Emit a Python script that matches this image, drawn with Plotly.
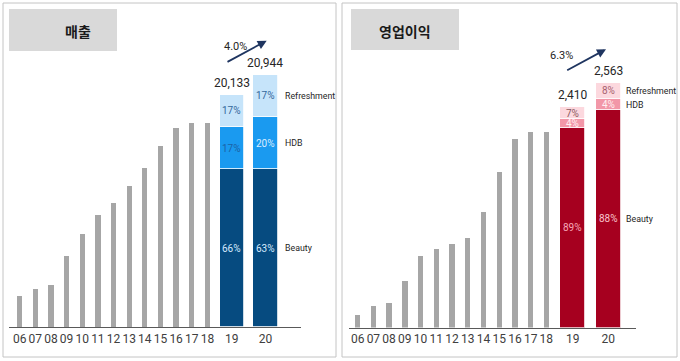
import plotly.graph_objects as go

W, H = 680, 361

# ---------------- data ----------------
years = ["06", "07", "08", "09", "10", "11", "12", "13", "14", "15", "16", "17", "18", "19", "20"]
segments = ["Beauty", "HDB", "Refreshment"]

# 매출 (sales)
sales_hist = [2600, 3200, 3600, 6000, 7900, 9500, 10500, 12000, 13500, 15400, 16900, 17300, 17300]
sales_beauty = [13430, 13430]
sales_hdb = [3570, 4390]
sales_refresh = [2720, 3630]
sales_total_lbl = ["20,133", "20,944"]
sales_pct = {"Beauty": ["66%", "63%"], "HDB": ["17%", "20%"], "Refreshment": ["17%", "17%"]}
sales_growth = "4.0%"

# 영업이익 (operating profit)
op_hist = [139, 225, 257, 498, 770, 845, 893, 963, 1241, 1669, 2017, 2097, 2097]
op_beauty = [2138, 2324]
op_hdb = [90, 118]
op_refresh = [132, 178]
op_total_lbl = ["2,410", "2,563"]
op_pct = {"Beauty": ["89%", "88%"], "HDB": ["4%", "4%"], "Refreshment": ["7%", "8%"]}
op_growth = "6.3%"

# ---------------- layout helpers ----------------
def px(x):
    return x / W

def py(y):
    return 1 - y / H

LATIN = "Roboto, 'Noto Sans CJK KR', sans-serif"
KR = "'Noto Sans CJK KR', sans-serif"

fig = go.Figure()
annotations = []
shapes = []

panels = [
    dict(xa="x", ya="y", xref="x", yref="y",
         hist=sales_hist, stacks=[sales_beauty, sales_hdb, sales_refresh],
         totals=sales_total_lbl, pct=sales_pct, growth=sales_growth,
         pos=[0, 1, 2, 3, 4, 5, 6, 7, 8, 9, 10, 11, 12, 13.55, 15.71], sw=1.55, gap=5,
         colors=["#064b80", "#1a9af0", "#c6e4fa"],
         pctcolors={"Beauty": ["#d5eaff", "#d5eaff"], "HDB": ["#1b62a6", "#d8ecff"],
                    "Refreshment": ["#34689c", "#34689c"]},
         title="매출", box=(9, 9, 117, 51), frame=(3, 3, 336, 357),
         arrow=((226, 62.7), (266.7, 40.7)), gtxt=(235, 38.5)),
    dict(xa="x2", ya="y2", xref="x2", yref="y2",
         hist=op_hist, stacks=[op_beauty, op_hdb, op_refresh],
         totals=op_total_lbl, pct=op_pct, growth=op_growth,
         pos=[0, 1, 2, 3, 4, 5, 6, 7, 8, 9, 10, 11, 12, 13.68, 15.94], sw=1.57, gap=3,
         colors=["#a6001f", "#f297a8", "#fcd8de"],
         pctcolors={"Beauty": ["#f7a8b8", "#f9c4cd"], "HDB": ["#fff0f2", "#fff0f2"],
                    "Refreshment": ["#8a5a5e", "#a8606e"]},
         title="영업이익", box=(351, 9, 459, 50), frame=(342, 3, 677, 357),
         arrow=((565.7, 71), (606, 49.3)), gtxt=(575.3, 46.7)),
]

for p in panels:
    pos = p["pos"]
    n = len(p["hist"])
    fig.add_trace(go.Bar(x=pos[:n], y=p["hist"], width=[0.34] * n,
                         marker=dict(color="#a6a6a6", line=dict(width=0)),
                         xaxis=p["xa"], yaxis=p["ya"], showlegend=False, hoverinfo="skip"))
    xs = pos[n:]
    base = [0, 0]
    for seg, vals, col in zip(segments, p["stacks"], p["colors"]):
        fig.add_trace(go.Bar(x=xs, y=vals, width=[p["sw"]] * 2,
                             marker=dict(color=col, line=dict(color="white", width=0.8)),
                             xaxis=p["xa"], yaxis=p["ya"], showlegend=False, hoverinfo="skip"))
        for i in range(2):
            annotations.append(dict(x=xs[i], y=base[i] + vals[i] / 2, xref=p["xref"], yref=p["yref"],
                                    text=p["pct"][seg][i], showarrow=False,
                                    font=dict(family=LATIN, size=10, color=p["pctcolors"][seg][i])))
        # segment name to the right of the last bar
        annotations.append(dict(x=xs[1] + p["sw"] / 2, y=base[1] + vals[1] / 2,
                                xref=p["xref"], yref=p["yref"], xanchor="left", xshift=p["gap"],
                                text=seg, showarrow=False,
                                font=dict(family=LATIN, size=8.8, color="#262626")))
        base = [base[i] + vals[i] for i in range(2)]
    for i in range(2):
        annotations.append(dict(x=xs[i], y=base[i], xref=p["xref"], yref=p["yref"],
                                yanchor="bottom", yshift=3, text=p["totals"][i], showarrow=False,
                                font=dict(family=LATIN, size=12, color="#262626")))
    # growth arrow
    (tx, ty), (hx, hy) = p["arrow"]
    annotations.append(dict(x=px(hx), y=py(hy), xref="paper", yref="paper",
                            ax=tx - hx, ay=ty - hy, axref="pixel", ayref="pixel",
                            showarrow=True, arrowhead=2, arrowsize=1, arrowwidth=1.8,
                            arrowcolor="#1f3560", text=""))
    gx, gy = p["gtxt"]
    annotations.append(dict(x=px(gx), y=py(gy), xref="paper", yref="paper", text=p["growth"],
                            showarrow=False, font=dict(family=LATIN, size=11, color="#262626")))
    # frame and title box
    fx0, fy0, fx1, fy1 = p["frame"]
    shapes.append(dict(type="rect", xref="paper", yref="paper", x0=px(fx0), x1=px(fx1),
                       y0=py(fy1), y1=py(fy0), line=dict(color="#c4c4c4", width=1),
                       fillcolor="rgba(0,0,0,0)", layer="below"))
    bx0, by0, bx1, by1 = p["box"]
    shapes.append(dict(type="rect", xref="paper", yref="paper", x0=px(bx0), x1=px(bx1),
                       y0=py(by1), y1=py(by0), line=dict(width=0), fillcolor="#d9d9d9",
                       layer="below"))
    annotations.append(dict(x=px((bx0 + bx1) / 2), y=py((by0 + by1) / 2), xref="paper", yref="paper",
                            yshift=11, text=p["title"], showarrow=False,
                            font=dict(family=KR, size=14, color="#1a1a1a", weight="bold")))

axis_common = dict(showgrid=False, zeroline=False, showline=True, linecolor="#595959", linewidth=1.2,
                   ticks="", tickangle=0, automargin=False,
                   tickfont=dict(family=LATIN, size=12, color="#404040"), fixedrange=True)

fig.update_layout(
    width=W, height=H, margin=dict(l=0, r=0, t=0, b=0, autoexpand=False),
    paper_bgcolor="white", plot_bgcolor="rgba(0,0,0,0)",
    barmode="stack", bargap=0,
    xaxis=dict(domain=[px(9), px(301)], range=[-0.68, 17.98], anchor="y",
               tickvals=panels[0]["pos"], ticktext=years, **axis_common),
    yaxis=dict(domain=[py(327), py(60)], range=[0, 267 * 85], visible=False, anchor="x"),
    xaxis2=dict(domain=[px(349), px(636)], range=[-0.55, 17.7], anchor="y2",
                tickvals=panels[1]["pos"], ticktext=years, **axis_common),
    yaxis2=dict(domain=[py(327.5), py(60)], range=[0, 267.5 * 10.7], visible=False, anchor="x2"),
    annotations=annotations, shapes=shapes, showlegend=False,
)

fig.write_html("out.html", config={"displayModeBar": False},
               post_script="document.body.style.margin='0';document.body.style.overflow='hidden';")
